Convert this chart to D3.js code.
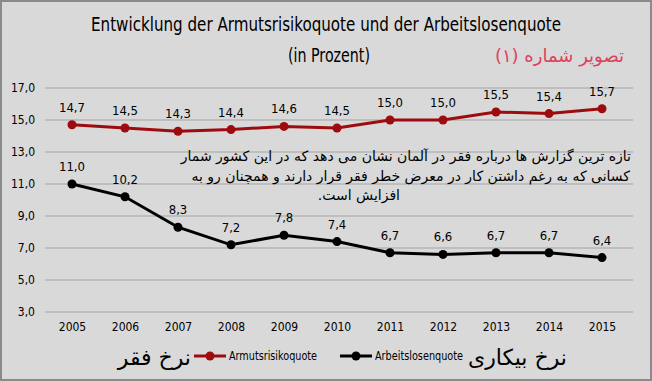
<!DOCTYPE html>
<html>
<head>
<meta charset="utf-8">
<script src="https://cdn.jsdelivr.net/npm/d3@7"></script>
<style>
  body { margin: 0; background: #fff; }
  svg { display: block; }
  .narrow { font-family: "Liberation Sans Narrow", "DejaVu Sans Condensed", sans-serif; }
</style>
</head>
<body>
<svg id="chart" width="652" height="381"></svg>
<script>
// data
const years = ['2005', '2006', '2007', '2008', '2009', '2010', '2011', '2012', '2013', '2014', '2015']
const armut = [14.7, 14.5, 14.3, 14.4, 14.6, 14.5, 15.0, 15.0, 15.5, 15.4, 15.7]
const arbeitslos = [11.0, 10.2, 8.3, 7.2, 7.8, 7.4, 6.7, 6.6, 6.7, 6.7, 6.4]
const yTicks = [3, 5, 7, 9, 11, 13, 15, 17]
const seriesNames = ['Armutsrisikoquote', 'Arbeitslosenquote']
const seriesColors = ['#9e0b0f', '#000000']

const svg = d3.select('#chart')
const fmt = v => d3.format('.1f')(v).replace('.', ',')

// background + frame
svg.append('rect')
  .attr('x', 1).attr('y', 1).attr('width', 650).attr('height', 379)
  .attr('fill', '#d9d9d9')
  .attr('stroke', '#8a8a8a')
  .attr('stroke-width', 2)

const x = d3.scalePoint().domain(years).range([72, 602])
const y = d3.scaleLinear().domain([3, 17]).range([312, 88])

// gridlines
svg.append('g')
  .selectAll('line')
  .data(yTicks)
  .enter()
  .append('line')
  .attr('x1', 45).attr('x2', 633)
  .attr('y1', d => y(d)).attr('y2', d => y(d))
  .attr('stroke', '#a3a3a3')
  .attr('stroke-width', 1)

// y axis labels
const leftAxis = d3.axisLeft(y).tickValues(yTicks).tickFormat(fmt).tickSize(0).tickPadding(0)
svg.append('g')
  .attr('transform', 'translate(35, 0)')
  .call(leftAxis)
  .call(g => g.select('.domain').remove())
  .call(g => g.selectAll('text').attr('class', 'narrow').attr('font-size', 12).attr('fill', '#000'))

// x axis labels
const bottomAxis = d3.axisBottom(x).tickSize(0).tickPadding(0)
svg.append('g')
  .attr('transform', 'translate(0, 322)')
  .call(bottomAxis)
  .call(g => g.select('.domain').remove())
  .call(g => g.selectAll('text').attr('class', 'narrow').attr('font-size', 12).attr('fill', '#000'))

// lines
const series = [armut, arbeitslos]
const line = d3.line().x((d, i) => x(years[i])).y(d => y(d))
series.forEach((vals, s) => {
  const g = svg.append('g')
  g.append('path')
    .attr('d', line(vals))
    .attr('fill', 'none')
    .attr('stroke', seriesColors[s])
    .attr('stroke-width', 3)
  g.selectAll('circle')
    .data(vals)
    .enter()
    .append('circle')
    .attr('cx', (d, i) => x(years[i]))
    .attr('cy', d => y(d))
    .attr('r', 4.5)
    .attr('fill', seriesColors[s])
  g.selectAll('text')
    .data(vals)
    .enter()
    .append('text')
    .attr('class', 'narrow')
    .attr('x', (d, i) => x(years[i]))
    .attr('y', d => y(d) - 13)
    .attr('text-anchor', 'middle')
    .attr('font-size', 13)
    .attr('fill', '#000')
    .text(fmt)
})

// title
svg.append('text').attr('class', 'narrow')
  .attr('x', 91).attr('y', 31)
  .attr('font-size', 19)
  .attr('textLength', 470).attr('lengthAdjust', 'spacingAndGlyphs')
  .text('Entwicklung der Armutsrisikoquote und der Arbeitslosenquote')
svg.append('text').attr('class', 'narrow')
  .attr('x', 288).attr('y', 62)
  .attr('font-size', 19)
  .attr('textLength', 82).attr('lengthAdjust', 'spacingAndGlyphs')
  .text('(in Prozent)')

// persian caption
svg.append('text')
  .attr('x', 624).attr('y', 62)
  .attr('direction', 'rtl').attr('text-anchor', 'start')
  .attr('font-family', 'DejaVu Sans').attr('font-size', 18)
  .attr('fill', '#e0405a')
  .text('تصویر شماره (۱)')

// persian note
const note = [
  'تازه ترین گزارش ها درباره فقر در آلمان نشان می دهد که در این کشور شمار',
  'کسانی که به رغم داشتن کار در معرض خطر فقر قرار دارند و همچنان رو به',
  'افزایش  است.'
]
const noteX = [631, 630, 400]
svg.append('g')
  .selectAll('text')
  .data(note)
  .enter()
  .append('text')
  .attr('x', (d, i) => noteX[i])
  .attr('y', (d, i) => 161 + i * 19.5)
  .attr('direction', 'rtl').attr('text-anchor', 'start')
  .attr('font-family', 'DejaVu Sans').attr('font-size', 14)
  .attr('fill', '#000')
  .text(d => d)

// legend
const legend = svg.append('g')
const legendItems = [
  { name: seriesNames[0], color: seriesColors[0], lx: 194, fa: 'نرخ فقر', faX: 191, faAnchor: 'start' },
  { name: seriesNames[1], color: seriesColors[1], lx: 340, fa: 'نرخ بیکاری', faX: 468, faAnchor: 'end' }
]
legendItems.forEach(it => {
  legend.append('line')
    .attr('x1', it.lx).attr('x2', it.lx + 32)
    .attr('y1', 356).attr('y2', 356)
    .attr('stroke', it.color).attr('stroke-width', 3)
  legend.append('circle')
    .attr('cx', it.lx + 16).attr('cy', 356).attr('r', 4.5)
    .attr('fill', it.color)
  legend.append('text').attr('class', 'narrow')
    .attr('x', it.lx + 35).attr('y', 360)
    .attr('font-size', 12)
    .attr('textLength', 88).attr('lengthAdjust', 'spacingAndGlyphs')
    .text(it.name)
  legend.append('text')
    .attr('x', it.faX).attr('y', 365)
    .attr('direction', 'rtl').attr('text-anchor', it.faAnchor)
    .attr('font-family', 'DejaVu Sans').attr('font-size', 22)
    .text(it.fa)
})
</script>
</body>
</html>
